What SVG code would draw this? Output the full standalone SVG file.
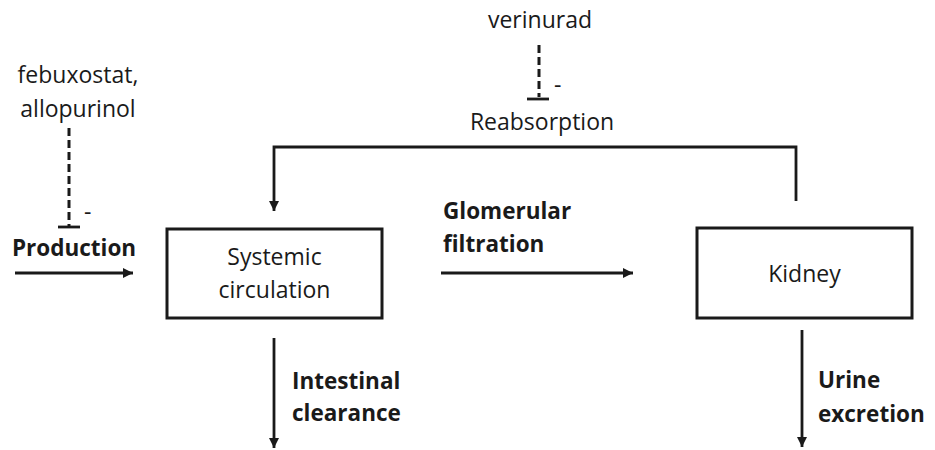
<svg xmlns="http://www.w3.org/2000/svg" width="935" height="450" viewBox="0 0 935 450">
<defs>
<style>
text{font-family:"Open Sans","Noto Sans","Liberation Sans",sans-serif;font-size:23px;fill:#1a1a1a}
.b{font-weight:bold;font-size:22.5px}
.box{fill:#fff;stroke:#1a1a1a;stroke-width:3}
.ln{fill:none;stroke:#1a1a1a;stroke-width:2.8}
.dash{fill:none;stroke:#1a1a1a;stroke-width:3;stroke-dasharray:8,4}
.c{text-anchor:middle}
</style>
<marker id="ah" viewBox="0 0 10 10" refX="10" refY="5" markerWidth="10" markerHeight="10" markerUnits="userSpaceOnUse" orient="auto">
<path d="M0,0 L10,5 L0,10 z" fill="#1a1a1a"/>
</marker>
</defs>
<rect width="935" height="450" fill="#fff"/>
<g id="connectors">
<path class="ln" d="M15,273 H133" marker-end="url(#ah)"/>
<path class="ln" d="M441,273 H633" marker-end="url(#ah)"/>
<path class="ln" d="M796,201 V147 H274 V211" marker-end="url(#ah)"/>
<path class="ln" d="M274,338 V448" marker-end="url(#ah)"/>
<path class="ln" d="M802,330 V447" marker-end="url(#ah)"/>
<path class="dash" d="M69,128 V226"/>
<path class="ln" d="M58,227 H80"/>
<path class="dash" d="M539,45 V97"/>
<path class="ln" d="M527,99 H549"/>
</g>
<g id="systemic">
<rect class="box" x="167" y="229" width="215" height="89"/>
<text class="c" x="274.5" y="265">Systemic</text>
<text class="c" x="274.5" y="298">circulation</text>
</g>
<g id="kidney">
<rect class="box" x="697" y="228" width="215" height="90"/>
<text class="c" x="804.5" y="282">Kidney</text>
</g>
<g id="labels">
<text class="c" x="78" y="83">febuxostat,</text>
<text class="c" x="78" y="117">allopurinol</text>
<text x="84" y="220">-</text>
<text class="b c" x="74" y="256">Production</text>
<text class="c" x="540" y="28">verinurad</text>
<text x="554" y="93">-</text>
<text class="c" x="542" y="130">Reabsorption</text>
<text class="b" x="443" y="219">Glomerular</text>
<text class="b" x="443" y="252">filtration</text>
<text class="b" x="292" y="389">Intestinal</text>
<text class="b" x="292" y="421">clearance</text>
<text class="b" x="818" y="388">Urine</text>
<text class="b" x="818" y="422">excretion</text>
</g>
</svg>
